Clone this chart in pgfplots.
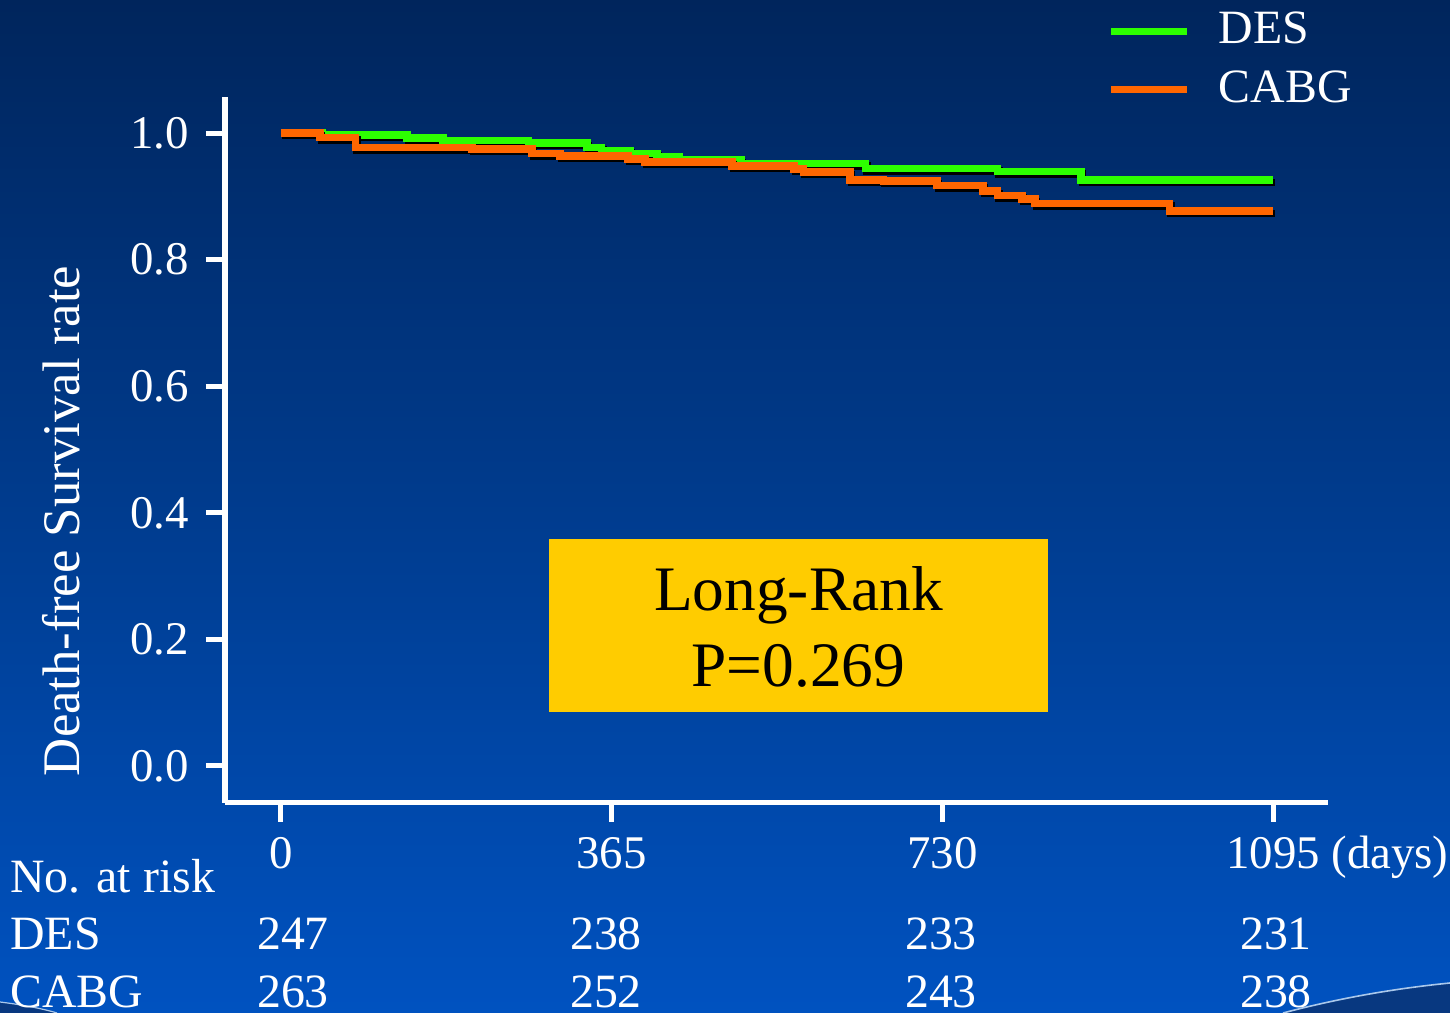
\documentclass[border=0pt]{standalone}
\usepackage{fontspec}
\setmainfont{Liberation Serif}
\usepackage{pgfplots}
\usepackage{pgfplotstable}
\pgfplotsset{compat=1.18}

\definecolor{bgtop}{RGB}{0,37,92}
\definecolor{bgmid}{RGB}{0,62,148}
\definecolor{bgbot}{RGB}{0,82,192}
\definecolor{desgreen}{RGB}{45,255,0}
\definecolor{cabgorange}{RGB}{255,102,0}
\definecolor{boxyellow}{RGB}{255,204,0}
\definecolor{swoosh}{RGB}{8,56,128}
\definecolor{swooshedge}{RGB}{170,200,235}

% Kaplan-Meier estimates: day, survival (value holds until the next row)
\pgfplotstableread{
day  surv
0    1.000
46   0.997
139  0.992
179  0.988
273  0.984
338  0.977
354  0.972
385  0.968
415  0.962
440  0.957
508  0.952
645  0.944
791  0.939
883  0.926
1095 0.926
}\desdata

\pgfplotstableread{
day  surv
0    1.000
43   0.993
82   0.977
211  0.975
277  0.968
308  0.964
383  0.959
402  0.954
498  0.948
566  0.943
577  0.938
628  0.926
665  0.924
724  0.917
775  0.908
791  0.901
818  0.896
832  0.889
981  0.877
1095 0.877
}\cabgdata

\begin{document}
\begin{tikzpicture}
% slide background
\shade[top color=bgtop, middle color=bgmid, bottom color=bgbot] (0,0) rectangle (725bp,506.5bp);
\useasboundingbox (0,0) rectangle (725bp,506.5bp);
\fill[swoosh] (641.5bp,0) .. controls (668bp,7bp) and (695bp,12bp) .. (725bp,15bp) -- (725bp,0) -- cycle;
\draw[swooshedge, line width=0.8bp] (641.5bp,0) .. controls (668bp,7bp) and (695bp,12bp) .. (725bp,15bp);
\fill[swoosh] (0,5.5bp) .. controls (12bp,4bp) and (22bp,2bp) .. (28.5bp,0) -- (0,0) -- cycle;
\draw[swooshedge, line width=0.6bp] (0,5.5bp) .. controls (12bp,4bp) and (22bp,2bp) .. (28.5bp,0);

\begin{axis}[
  at={(112.5bp,105bp)}, anchor=south west,
  scale only axis, width=551.5bp, height=353bp,
  xmin=-61.8, xmax=1155.7, ymin=-0.0585, ymax=1.0569,
  axis lines=left,
  axis line style={white, line width=2.5bp, -},
  tick align=outside, major tick length=9.5bp,
  tick style={white, line width=2.5bp},
  xtick={0,365,730,1095},
  xticklabels={0,365,730,{1095\rlap{ (days)}}},
  ytick={0,0.2,0.4,0.6,0.8,1.0},
  yticklabels={0.0,0.2,0.4,0.6,0.8,1.0},
  ticklabel style={text=white, inner sep=0pt, font=\fontsize{23.5}{28}\selectfont},
  xticklabel style={anchor=base, yshift=-23.5bp},
  yticklabel style={anchor=east, xshift=-8.5bp},
  ylabel={Death-free Survival rate},
  ylabel style={at={(axis description cs:-0.1487,0.3994)}, anchor=center,
    text=white, font=\fontsize{26.5}{30}\selectfont},
  clip=false,
  legend cell align=left,
  legend image code/.code={\draw[#1, line width=3.5bp] (0bp,-1bp) -- (38bp,-1bp);},
  legend style={at={(axis description cs:0.8,1.121)}, anchor=north west,
    draw=none, fill=none, inner sep=0pt, text=white,
    font=\fontsize{24}{28}\selectfont,
    row sep=12bp, column sep=14bp, nodes={inner sep=0pt}},
]
\addplot[black, line width=3.75bp, const plot, forget plot, xshift=0.75bp, yshift=-1.25bp]
  table[x=day, y=surv] {\desdata};
\addplot[desgreen, line width=3.75bp, const plot] table[x=day, y=surv] {\desdata};
\addlegendentry{DES}
\addplot[black, line width=3.75bp, const plot, forget plot, xshift=0.75bp, yshift=-1.25bp]
  table[x=day, y=surv] {\cabgdata};
\addplot[cabgorange, line width=3.75bp, const plot] table[x=day, y=surv] {\cabgdata};
\addlegendentry{CABG}
\end{axis}

% log-rank result
\fill[boxyellow] (274.5bp,150.5bp) rectangle (524bp,237bp);
\begin{scope}[every node/.style={anchor=base, inner sep=0pt, text=black, font=\fontsize{31.8}{38}\selectfont}]
\node at (399.25bp,201.2bp) {Long-Rank};
\node at (399.25bp,163bp) {P=0.269};
\end{scope}

% numbers at risk
\begin{scope}[every node/.style={inner sep=0pt, text=white, font=\fontsize{24}{28}\selectfont}]
\node[anchor=base west] at (5bp,60bp) {No. at risk};
\node[anchor=base west] at (5bp,32bp) {DES};
\node[anchor=base west] at (5bp,3bp) {CABG};
\node[anchor=base] at (146.5bp,32bp) {247};
\node[anchor=base] at (303bp,32bp) {238};
\node[anchor=base] at (470.5bp,32bp) {233};
\node[anchor=base] at (638bp,32bp) {231};
\node[anchor=base] at (146.5bp,3bp) {263};
\node[anchor=base] at (303bp,3bp) {252};
\node[anchor=base] at (470.5bp,3bp) {243};
\node[anchor=base] at (638bp,3bp) {238};
\end{scope}
\end{tikzpicture}
\end{document}
